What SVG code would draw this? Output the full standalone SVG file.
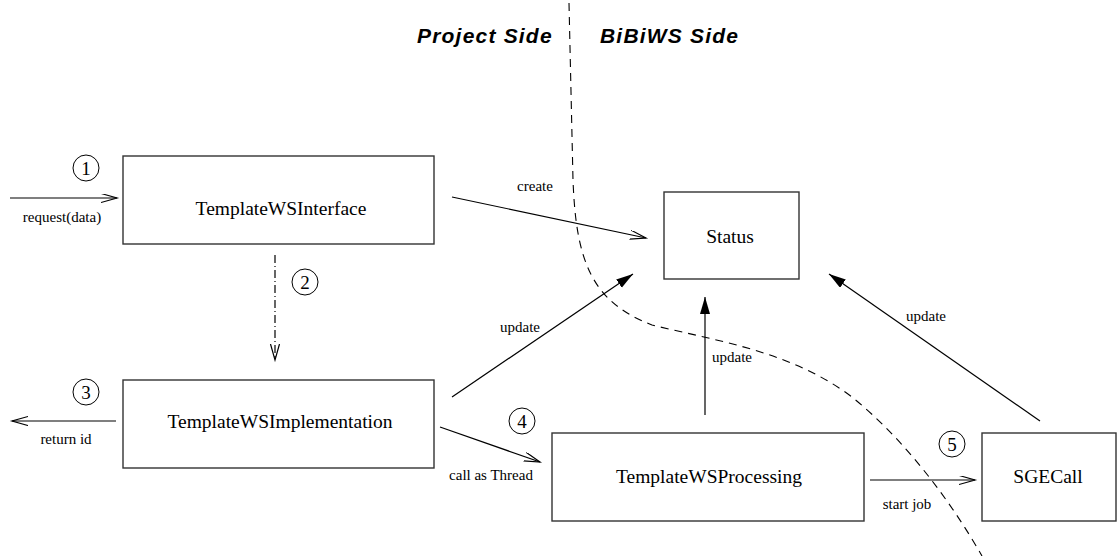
<svg xmlns="http://www.w3.org/2000/svg" width="1117" height="556" viewBox="0 0 1117 556">
<style>
.box{fill:#fff;stroke:#333;stroke-width:1.4}
.lbl{font-family:"Liberation Serif","Times New Roman",serif;font-size:19.5px;fill:#000;text-anchor:middle}
.sm{font-family:"Liberation Serif","Times New Roman",serif;font-size:15px;fill:#000;text-anchor:middle}
.num{font-family:"Liberation Serif","Times New Roman",serif;font-size:19px;fill:#000;text-anchor:middle}
.circ{fill:none;stroke:#000;stroke-width:1}
.ttl{font-family:"Liberation Sans",Arial,sans-serif;font-size:21px;font-weight:bold;font-style:italic;letter-spacing:1.2px;fill:#000}
.ln{fill:none;stroke:#000;stroke-width:1.2}
.open{marker-end:url(#open)}
.fill{marker-end:url(#filled)}
</style>
<defs>
<marker id="open" markerUnits="userSpaceOnUse" markerWidth="20" markerHeight="12" refX="16" refY="4.5" orient="auto">
<path d="M0,0 L16,4.5 L0,9" fill="none" stroke="#000" stroke-width="1.2"/>
</marker>
<marker id="filled" markerUnits="userSpaceOnUse" markerWidth="20" markerHeight="12" refX="17" refY="5" orient="auto">
<path d="M0,0 L17,5 L0,10 z" fill="#000" stroke="none"/>
</marker>
</defs>

<g id="divider">
<path d="M569,3 L573,180 C576,262 592,302 652,325 C722,342 792,352 852,397 C905,440 950,500 982,556" fill="none" stroke="#000" stroke-width="1.1" stroke-dasharray="8 6"/>
<text class="ttl" x="417" y="43">Project Side</text>
<text class="ttl" x="600" y="43">BiBiWS Side</text>
</g>

<g id="connectors">
<line class="ln open" x1="10" y1="198" x2="117" y2="198"/>
<text class="sm" x="62" y="222">request(data)</text>
<line class="ln open" x1="275" y1="255" x2="275" y2="360" stroke-dasharray="8 3 1 3"/>
<line class="ln open" x1="116" y1="421" x2="12" y2="421"/>
<text class="sm" x="66" y="444">return id</text>
<line class="ln open" x1="452" y1="197" x2="646" y2="238"/>
<text class="sm" x="535" y="191">create</text>
<line class="ln fill" x1="452" y1="397" x2="633" y2="274"/>
<text class="sm" x="520" y="332">update</text>
<line class="ln fill" x1="705" y1="415" x2="705" y2="297" stroke="#444"/>
<text class="sm" x="732" y="362">update</text>
<line class="ln fill" x1="1040" y1="421" x2="829" y2="274"/>
<text class="sm" x="926" y="321">update</text>
<line class="ln open" x1="440" y1="427" x2="540" y2="462"/>
<text class="sm" x="491" y="480">call as Thread</text>
<line class="ln open" x1="870" y1="480" x2="975" y2="480"/>
<text class="sm" x="907" y="509">start job</text>
<circle class="circ" cx="86" cy="168" r="13"/>
<text class="num" x="86" y="174.5">1</text>
<circle class="circ" cx="305" cy="282" r="13"/>
<text class="num" x="305" y="288.5">2</text>
<circle class="circ" cx="86" cy="392" r="13"/>
<text class="num" x="86" y="398.5">3</text>
<circle class="circ" cx="522" cy="421" r="13"/>
<text class="num" x="522" y="427.5">4</text>
<circle class="circ" cx="952" cy="444" r="13"/>
<text class="num" x="952" y="450.5">5</text>
</g>

<g id="node-interface">
<rect class="box" x="123" y="156" width="311" height="88"/>
<text class="lbl" x="281" y="215">TemplateWSInterface</text>
</g>
<g id="node-implementation">
<rect class="box" x="123" y="380" width="311" height="88"/>
<text class="lbl" x="280" y="428">TemplateWSImplementation</text>
</g>
<g id="node-status">
<rect class="box" x="664" y="192" width="135" height="87"/>
<text class="lbl" x="730" y="243">Status</text>
</g>
<g id="node-processing">
<rect class="box" x="552" y="433" width="312" height="88"/>
<text class="lbl" x="709" y="483">TemplateWSProcessing</text>
</g>
<g id="node-sgecall">
<rect class="box" x="982" y="433" width="134" height="88"/>
<text class="lbl" x="1048" y="483">SGECall</text>
</g>
</svg>
